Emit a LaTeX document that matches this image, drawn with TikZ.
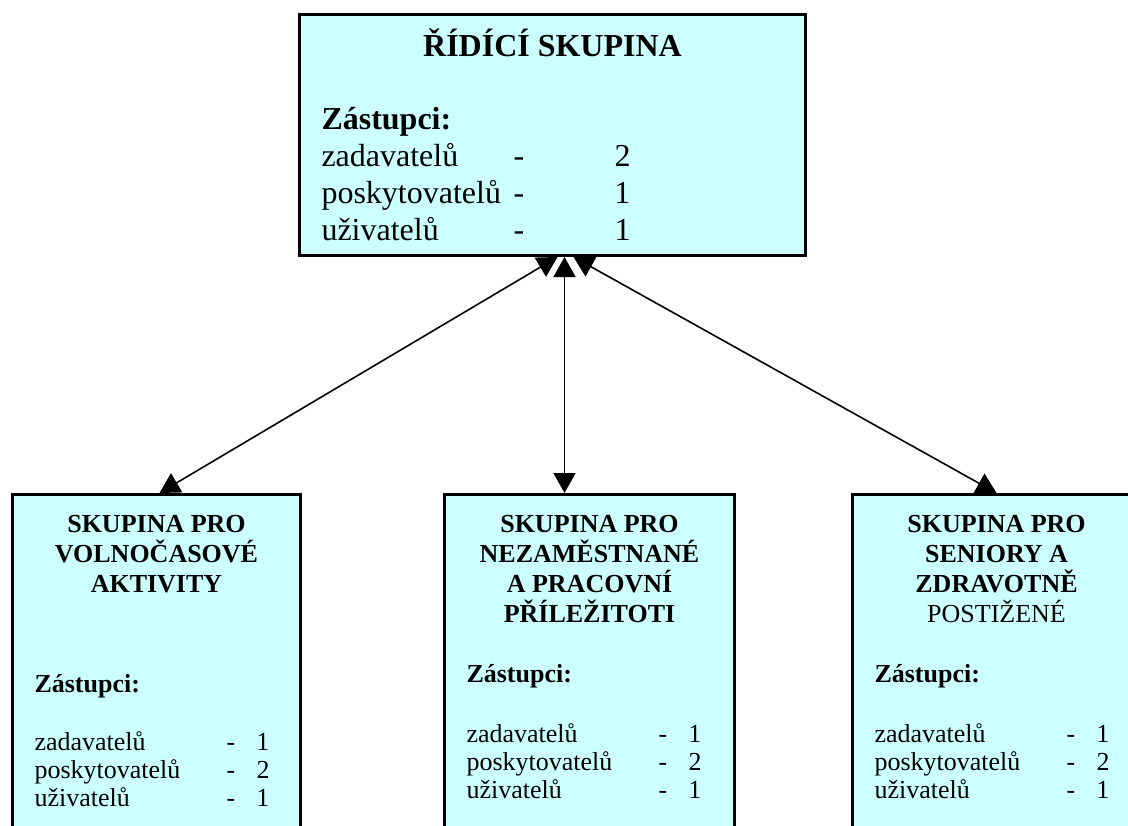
\documentclass[tikz,border=0pt]{standalone}
\usepackage{fontspec}
\setmainfont{Liberation Serif}
\usetikzlibrary{arrows.meta, positioning, calc}
\definecolor{skupcyan}{HTML}{CCFFFF}

% one line of representatives: name, dash, count
\newcommand{\zast}[4]{\makebox[#1][l]{#3}\makebox[#2][l]{-}#4\par}

\begin{document}
\begin{tikzpicture}[
  x=0.5pt, y=-0.5pt,
  box/.style={draw, fill=skupcyan, line width=1.5pt, inner sep=0pt, anchor=north west},
  arr/.style={{Triangle[length=10pt,width=11pt]}-{Triangle[length=10pt,width=11pt]}, line width=0.8pt},
]
\useasboundingbox (0,0) rectangle (1128,825);

% --- steering group ---
\node[box] (ridici) at (298,13) {%
  \begin{minipage}[t][120.5pt][t]{253pt}
  \fontsize{16pt}{18.5pt}\selectfont
  {\centering\rule{0pt}{21pt}\textbf{ŘÍDÍCÍ SKUPINA}\par}
  \vspace{18pt}
  \leftskip=11pt
  \textbf{Zástupci:}\par
  \zast{96pt}{50.5pt}{zadavatelů}{2}
  \zast{96pt}{50.5pt}{poskytovatelů}{1}
  \zast{96pt}{50.5pt}{uživatelů}{1}
  \end{minipage}};

% --- working groups ---
\node[box] (volny) at (11,493) {%
  \begin{minipage}[t][173pt][t]{144pt}
  \fontsize{13pt}{15pt}\selectfont
  {\centering\rule{0pt}{19pt}\textbf{SKUPINA PRO}\\\textbf{VOLNOČASOVÉ}\\\textbf{AKTIVITY}\par}
  \vspace{35pt}
  \leftskip=11pt
  \textbf{Zástupci:}\par
  \fontsize{13pt}{14pt}\selectfont
  \vspace{15pt}
  \zast{96pt}{15pt}{zadavatelů}{1}
  \zast{96pt}{15pt}{poskytovatelů}{2}
  \zast{96pt}{15pt}{uživatelů}{1}
  \end{minipage}};

\node[box] (prace) at (443,493) {%
  \begin{minipage}[t][173pt][t]{145pt}
  \fontsize{13pt}{15pt}\selectfont
  {\centering\rule{0pt}{19pt}\textbf{SKUPINA PRO}\\\textbf{NEZAMĚSTNANÉ}\\\textbf{A PRACOVNÍ}\\\textbf{PŘÍLEŽITOTI}\par}
  \vspace{15pt}
  \leftskip=11pt
  \textbf{Zástupci:}\par
  \fontsize{13pt}{14pt}\selectfont
  \vspace{16pt}
  \zast{96pt}{15pt}{zadavatelů}{1}
  \zast{96pt}{15pt}{poskytovatelů}{2}
  \zast{96pt}{15pt}{uživatelů}{1}
  \end{minipage}};

\node[box] (senior) at (851,493) {%
  \begin{minipage}[t][173pt][t]{144pt}
  \fontsize{13pt}{15pt}\selectfont
  {\centering\rule{0pt}{19pt}\textbf{SKUPINA PRO}\\\textbf{SENIORY A}\\\textbf{ZDRAVOTNĚ}\\POSTIŽENÉ\par}
  \vspace{15pt}
  \leftskip=11pt
  \textbf{Zástupci:}\par
  \fontsize{13pt}{14pt}\selectfont
  \vspace{16pt}
  \zast{96pt}{15pt}{zadavatelů}{1}
  \zast{96pt}{15pt}{poskytovatelů}{2}
  \zast{96pt}{15pt}{uživatelů}{1}
  \end{minipage}};

% --- links ---
\draw[arr] ([xshift=2.5pt]ridici.south) -- ([xshift=1.5pt]volny.north);
\draw[arr] ([xshift=6pt]ridici.south) -- ([xshift=-12.5pt]prace.north);
\draw[arr] ([xshift=10.5pt]ridici.south) -- ([xshift=0pt]senior.north);
\end{tikzpicture}
\end{document}
